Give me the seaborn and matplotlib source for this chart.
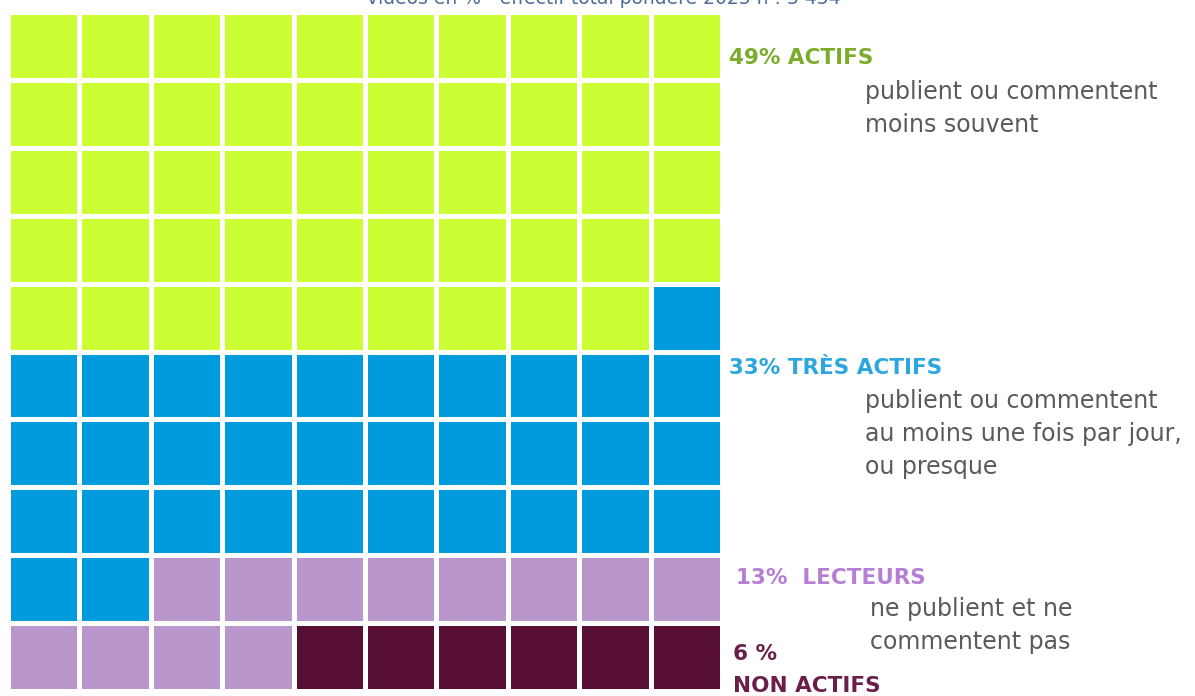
import matplotlib
matplotlib.use("Agg")
import matplotlib.pyplot as plt
from matplotlib.colors import ListedColormap
import numpy as np
import seaborn as sns

# donnees : nombre de cases (sur 100) par categorie
categories = ["ACTIFS", "TRÈS ACTIFS", "LECTEURS", "NON ACTIFS"]
cases = [49, 33, 12, 6]
pourcentages = ["49%", "33%", "13% ", "6 %"]
couleurs = ["#ccff33", "#009bdd", "#b997cc", "#560e33"]
couleurs_texte = ["#7cac2c", "#2ba6df", "#b67fd4", "#6a1f48"]
descriptions = [
    ["publient ou commentent", "moins souvent"],
    ["publient ou commentent", "au moins une fois par jour,", "ou presque"],
    ["ne publient et ne", "commentent pas"],
    [],
]
titre = "vidéos en % - effectif total pondéré 2023 n : 3 454 -"

# grille 10 x 10 remplie ligne par ligne
valeurs = np.repeat(np.arange(len(cases)), cases).reshape(10, 10)

sns.set_theme(style="white")
plt.rcParams["font.family"] = ["DejaVu Sans"]

W, H = 1195, 696
fig = plt.figure(figsize=(W / 100, H / 100), dpi=100)
ax = fig.add_axes([8 / W, 5 / H, (722 - 8) / W, (691 - 12) / H])
sns.heatmap(valeurs, cmap=ListedColormap(couleurs), vmin=-0.5, vmax=3.5,
            cbar=False, linewidths=2.2, linecolor="white", ax=ax,
            xticklabels=False, yticklabels=False)


def px(x, y):
    return x / W, 1 - y / H


fig.text(*px(610, 4), titre, ha="center", va="baseline", fontsize=13.5,
         color="#4d6b9c")

gris = "#5a5a5a"
# (x titre, y titre, x desc, y premiere ligne)
pos = [(729, 58, 865, 92), (729, 368, 865, 401), (736, 578, 870, 609)]
for i in range(3):
    x0, y0, x1, y1 = pos[i]
    fig.text(*px(x0, y0), f"{pourcentages[i]} {categories[i]}", ha="left",
             va="center", fontsize=15.5, fontweight="bold",
             color=couleurs_texte[i])
    for k, ligne in enumerate(descriptions[i]):
        fig.text(*px(x1, y1 + 33 * k), ligne, ha="left", va="center",
                 fontsize=17, color=gris)

fig.text(*px(733, 654), pourcentages[3], ha="left", va="center",
         fontsize=15.5, fontweight="bold", color=couleurs_texte[3])
fig.text(*px(733, 686), categories[3], ha="left", va="center",
         fontsize=15.5, fontweight="bold", color=couleurs_texte[3])

fig.savefig("out.png", dpi=100)
